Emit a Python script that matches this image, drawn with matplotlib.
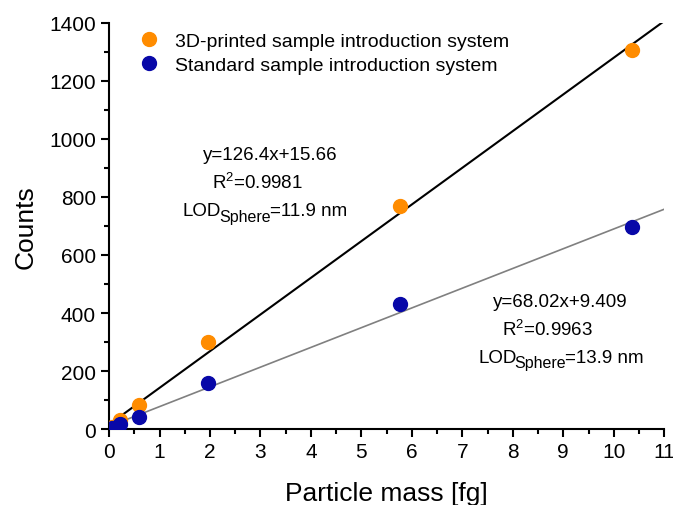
"""Calibration curves: counts vs particle mass for two sample introduction systems."""

import numpy as np
import matplotlib.pyplot as plt
from matplotlib.ticker import MultipleLocator

plt.rcParams['font.family'] = ['Liberation Sans', 'DejaVu Sans']
plt.rcParams['mathtext.fontset'] = 'custom'
plt.rcParams['mathtext.rm'] = 'Liberation Sans'
plt.rcParams['mathtext.it'] = 'Liberation Sans:italic'

# data
mass = [0.05, 0.22, 0.6, 1.97, 5.77, 10.37]
counts_printed = [7, 31, 83, 300, 770, 1307]
counts_standard = [4, 17, 42, 160, 431, 696]

fit_printed = (126.4, 15.66)
fit_standard = (68.02, 9.409)
fit_x = [0, 11]

labels = ['3D-printed sample introduction system', 'Standard sample introduction system']
orange = '#ff8c00'
blue = '#0808a8'


def lod_text(ax, x, y, value):
    # LOD with a "Sphere" subscript, built from three pieces
    t = ax.text(x, y, 'LOD', transform=ax.transAxes, fontsize=13.5, va='center', ha='left')
    s = ax.annotate('Sphere', xy=(1, 0), xycoords=t, xytext=(-1.5, -3),
                    textcoords='offset points', fontsize=11.5, va='bottom', ha='left')
    ax.annotate('=%s nm' % value, xy=(1, 0), xycoords=(s, t), xytext=(-0.8, 0),
                textcoords='offset points', fontsize=13.5, va='bottom', ha='left')


fig = plt.figure(figsize=(6.73, 5.06), dpi=100)
ax = fig.add_axes([0.162, 0.150, 0.825, 0.803])

# fit lines
fx = np.array(fit_x)
ax.plot(fx, fit_printed[0] * fx + fit_printed[1], color='black', lw=1.5, zorder=2)
ax.plot(fx, fit_standard[0] * fx + fit_standard[1], color='#808080', lw=1.2, zorder=2)

# measured points
ax.plot(mass, counts_printed, 'o', color=orange, ms=10, label=labels[0], zorder=3)
ax.plot(mass, counts_standard, 'o', color=blue, ms=10, label=labels[1], zorder=3)

ax.set_xlim(0, 11)
ax.set_ylim(0, 1400)
ax.xaxis.set_major_locator(MultipleLocator(1))
ax.xaxis.set_minor_locator(MultipleLocator(0.5))
ax.yaxis.set_major_locator(MultipleLocator(200))
ax.yaxis.set_minor_locator(MultipleLocator(100))
ax.tick_params(which='major', length=6, width=1.5, labelsize=15, direction='out')
ax.tick_params(which='minor', length=3.5, width=1.5, direction='out')
for side in ['top', 'right']:
    ax.spines[side].set_visible(False)
for side in ['left', 'bottom']:
    ax.spines[side].set_linewidth(1.5)

ax.set_xlabel('Particle mass [fg]', fontsize=19, labelpad=14)
ax.set_ylabel('Counts', fontsize=19, labelpad=8)

ax.legend(loc='upper left', bbox_to_anchor=(0.02, 1.02), frameon=False, fontsize=14,
          handletextpad=0.7, labelspacing=0.33, handlelength=1.2)

# fit annotations
ann = dict(transform=ax.transAxes, fontsize=13.5, va='center', ha='left')
ax.text(0.169, 0.677, 'y=126.4x+15.66', **ann)
ax.text(0.186, 0.608, r'R$^2$=0.9981', **ann)
lod_text(ax, 0.133, 0.537, '11.9')
ax.text(0.692, 0.313, 'y=68.02x+9.409', **ann)
ax.text(0.708, 0.246, r'R$^2$=0.9963', **ann)
lod_text(ax, 0.665, 0.177, '13.9')

fig.savefig('out.png', dpi=100)
